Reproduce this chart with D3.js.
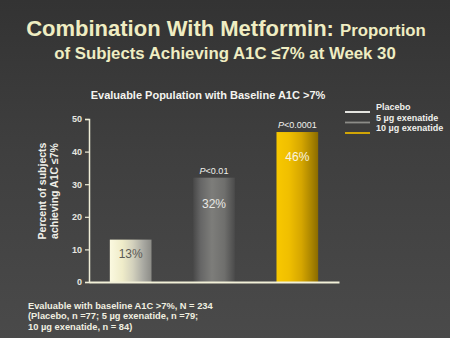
<!DOCTYPE html>
<html>
<head>
<meta charset="utf-8">
<script src="https://cdn.jsdelivr.net/npm/d3@7"></script>
<style>
  html, body { margin: 0; padding: 0; background: #3a3a3a; }
  svg { display: block; font-family: "Liberation Sans", Arial, sans-serif; }
</style>
</head>
<body>
<svg id="chart" width="450" height="338"></svg>
<script>
// Treatment groups and share of subjects reaching A1C <= 7% at week 30
const groups = ["Placebo", "5 µg exenatide", "10 µg exenatide"];
const percents = [13, 32, 46];
const pValues = [null, "<0.01", "<0.0001"];
const yTicks = [0, 10, 20, 30, 40, 50];
const footnote = [
  "Evaluable with baseline A1C >7%, N = 234",
  "(Placebo, n =77; 5 µg exenatide, n =79;",
  "10 µg exenatide, n = 84)"
];

const svg = d3.select("#chart");
const defs = svg.append("defs");

// Background: dark slide gradient
const bg = defs.append("linearGradient").attr("id", "bg")
  .attr("x1", 0).attr("y1", 0).attr("x2", 0).attr("y2", 1);
bg.append("stop").attr("offset", 0).attr("stop-color", "#333333");
bg.append("stop").attr("offset", 0.45).attr("stop-color", "#3f3f3f");
bg.append("stop").attr("offset", 1).attr("stop-color", "#4a4a4a");
svg.append("rect").attr("width", 450).attr("height", 338).attr("fill", "url(#bg)");

// Horizontal shading for each bar (cylinder look)
const barStops = [
  [[0, "#fbf9e0"], [0.3, "#efecc9"], [0.55, "#d3d1bd"], [0.8, "#a9a9a2"], [1, "#8c8c87"]],
  [[0, "#484848"], [0.18, "#666666"], [0.45, "#7d7d7a"], [0.75, "#6f6f6d"], [1, "#4b4b4b"]],
  [[0, "#f8c800"], [0.3, "#f0bf00"], [0.6, "#d5a600"], [0.85, "#a88300"], [1, "#8a6b00"]]
];
barStops.forEach((stops, i) => {
  const g = defs.append("linearGradient").attr("id", "bar" + i)
    .attr("x1", 0).attr("y1", 0).attr("x2", 1).attr("y2", 0);
  stops.forEach(s => g.append("stop").attr("offset", s[0]).attr("stop-color", s[1]));
});

// Title
const title = svg.append("text").attr("x", 226).attr("y", 36)
  .attr("text-anchor", "middle").attr("fill", "#efedc2").attr("font-weight", "bold");
title.append("tspan").attr("font-size", 22).text("Combination With Metformin: ");
title.append("tspan").attr("font-size", 16.8).text("Proportion");
svg.append("text").attr("x", 225).attr("y", 59)
  .attr("text-anchor", "middle").attr("fill", "#efedc2").attr("font-weight", "bold")
  .attr("font-size", 16.8).text("of Subjects Achieving A1C \u22647% at Week 30");

// Subtitle
svg.append("text").attr("x", 208).attr("y", 99)
  .attr("text-anchor", "middle").attr("fill", "#f4f4f0").attr("font-weight", "bold")
  .attr("font-size", 11).text("Evaluable Population with Baseline A1C >7%");

// Scales
const x = d3.scaleBand().domain(groups).range([89, 339]).paddingInner(0.5).paddingOuter(0.25);
const y = d3.scaleLinear().domain([0, 50]).range([282, 119]);

// Bars
svg.append("g").selectAll("rect").data(groups).join("rect")
  .attr("x", d => x(d))
  .attr("y", (d, i) => y(percents[i]))
  .attr("width", x.bandwidth())
  .attr("height", (d, i) => y(0) - y(percents[i]))
  .attr("fill", (d, i) => `url(#bar${i})`);

// Value labels inside the bars (short placebo bar keeps its label nearer the top)
const labelColors = ["#5a5a55", "#e8e8e4", "#f8f4e0"];
const labelDrop = [18, 30, 29];
svg.append("g").selectAll("text").data(groups).join("text")
  .attr("x", d => x(d) + x.bandwidth() / 2)
  .attr("y", (d, i) => y(percents[i]) + labelDrop[i])
  .attr("text-anchor", "middle").attr("font-size", 12)
  .attr("fill", (d, i) => labelColors[i])
  .text((d, i) => percents[i] + "%");

// P-values above bars
groups.forEach((g, i) => {
  if (!pValues[i]) return;
  const t = svg.append("text")
    .attr("x", x(g) + x.bandwidth() / 2)
    .attr("y", y(percents[i]) - 4)
    .attr("text-anchor", "middle").attr("font-size", 9)
    .attr("fill", "#f0f0ec");
  t.append("tspan").attr("font-style", "italic").text("P");
  t.append("tspan").text(pValues[i]);
});

// Y axis
const yAxis = svg.append("g").attr("transform", "translate(89,0)")
  .call(d3.axisLeft(y).tickValues(yTicks).tickSize(4).tickPadding(3));
yAxis.select(".domain").attr("stroke", "#efedd8").attr("stroke-width", 1.5);
yAxis.selectAll(".tick line").attr("stroke", "#efedd8").attr("stroke-width", 1.2);
yAxis.selectAll(".tick text").attr("fill", "#e6e6e0").attr("font-size", 9)
  .attr("font-weight", "bold").attr("font-family", "Liberation Sans, Arial, sans-serif");

// X axis baseline
const xAxis = svg.append("g").attr("transform", `translate(0,${y(0)})`)
  .call(d3.axisBottom(x).tickSize(0).tickFormat(""));
xAxis.select(".domain").attr("stroke", "#f2f0d8").attr("stroke-width", 2);

// Y axis title (two rotated lines)
const yTitle = svg.append("text")
  .attr("transform", "translate(0,191) rotate(-90)")
  .attr("text-anchor", "middle").attr("fill", "#efefe8")
  .attr("font-weight", "bold").attr("font-size", 10.5);
yTitle.append("tspan").attr("x", 0).attr("y", 46).text("Percent of subjects");
yTitle.append("tspan").attr("x", 0).attr("y", 57.5).text("achieving A1C \u22647%");

// Legend
const legendColors = ["#f6f6f2", "#8c8c88", "#e2b200"];
const legend = svg.append("g").selectAll("g").data(groups).join("g")
  .attr("transform", (d, i) => `translate(345,${107 + i * 10.5})`);
legend.append("line").attr("x1", 0).attr("x2", 25).attr("y1", 5).attr("y2", 5)
  .attr("stroke", (d, i) => legendColors[i]).attr("stroke-width", 1.8);
legend.append("text").attr("x", 31).attr("y", 3.3)
  .attr("fill", "#f0f0ec").attr("font-weight", "bold").attr("font-size", 9)
  .text(d => d);

// Footnote
svg.append("g").selectAll("text").data(footnote).join("text")
  .attr("x", 28).attr("y", (d, i) => 308.5 + i * 10.5)
  .attr("fill", "#f0efe0").attr("font-weight", "bold").attr("font-size", 9.3)
  .text(d => d);
</script>
</body>
</html>
